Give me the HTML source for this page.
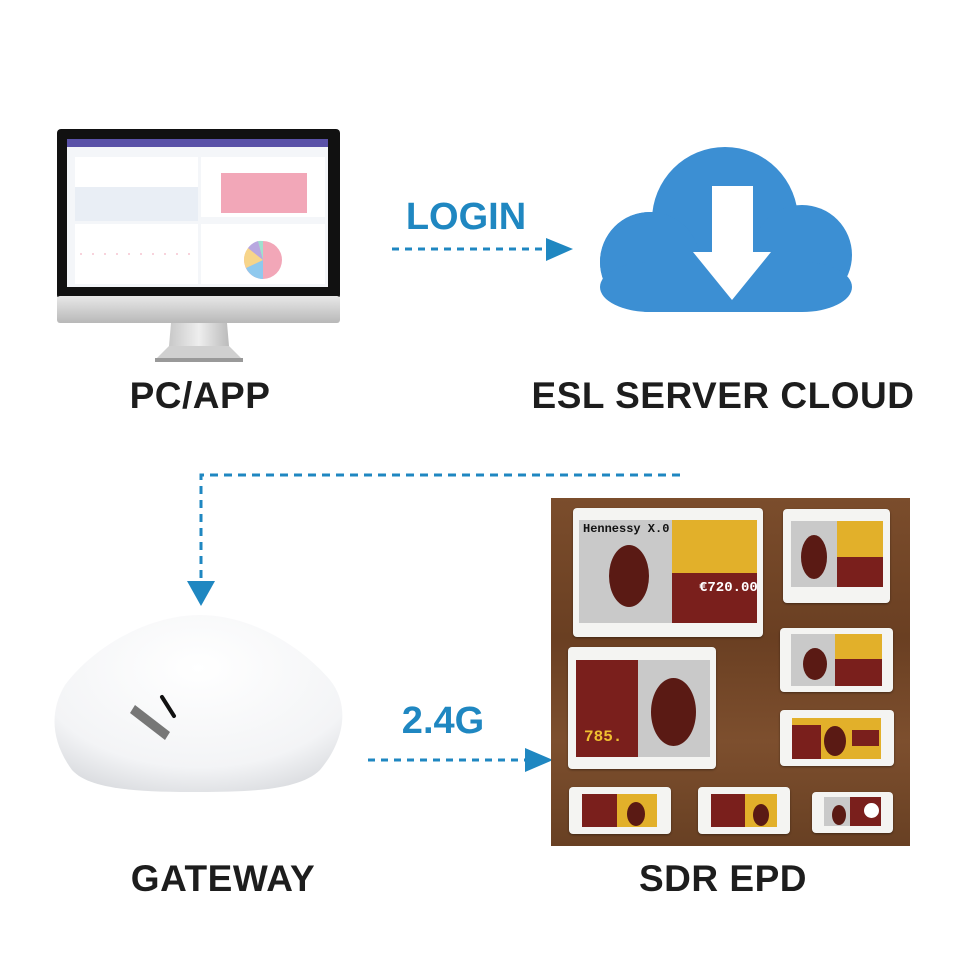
<!DOCTYPE html>
<html><head><meta charset="utf-8"><style>
html,body{margin:0;padding:0;background:#fff;}
body{width:960px;height:960px;position:relative;overflow:hidden;font-family:"Liberation Sans",sans-serif;}
.lbl{position:absolute;font-weight:bold;color:#1d1d1d;font-size:37px;text-align:center;white-space:nowrap;transform:translateX(-50%);letter-spacing:0.5px}
.blue{position:absolute;font-weight:bold;color:#1f87c1;font-size:38px;transform:translateX(-50%);}
.t{position:absolute;background:#f4f4f2;border-radius:4px;box-shadow:0 1px 2px rgba(0,0,0,.4)}
.s{position:absolute;overflow:hidden}
.s div{position:absolute}
</style></head><body>
<svg width="960" height="960" style="position:absolute;left:0;top:0">
<defs>
<linearGradient id="chin" x1="0" y1="0" x2="0" y2="1"><stop offset="0" stop-color="#e8e8e8"/><stop offset="1" stop-color="#b8b8b8"/></linearGradient>
<linearGradient id="neck" x1="0" y1="0" x2="1" y2="0"><stop offset="0" stop-color="#c8c8c8"/><stop offset=".5" stop-color="#eee"/><stop offset="1" stop-color="#bbb"/></linearGradient>
<radialGradient id="gw" cx=".5" cy=".3" r=".8"><stop offset="0" stop-color="#ffffff"/><stop offset=".7" stop-color="#f3f4f6"/><stop offset="1" stop-color="#d4d6da"/></radialGradient>
</defs>
<!-- monitor -->
<rect x="57" y="129" width="283" height="170" rx="4" fill="#111"/>
<rect x="57" y="296" width="283" height="27" rx="3" fill="url(#chin)"/>
<path d="M171 323 L227 323 L229 346 L169 346 Z" fill="url(#neck)"/>
<path d="M169 346 L229 346 L243 360 L155 360 Z" fill="#d0d0d0"/>
<rect x="155" y="358" width="88" height="4" fill="#999"/>
<rect x="67" y="139" width="261" height="148" fill="#f4f6f9"/>
<rect x="67" y="139" width="261" height="8" fill="#5a52a8"/>
<rect x="75" y="157" width="123" height="64" fill="#e9eef5"/>
<rect x="75" y="157" width="123" height="30" fill="#fff"/>
<rect x="201" y="157" width="124" height="60" fill="#fff"/>
<rect x="221" y="173" width="86" height="40" fill="#f2a7b8"/>
<rect x="75" y="224" width="123" height="60" fill="#fff"/>
<rect x="201" y="224" width="124" height="60" fill="#fff"/>
<line x1="80" y1="254" x2="195" y2="254" stroke="#f2a7b8" stroke-width="1" stroke-dasharray="2 10"/>
<circle cx="263" cy="260" r="19" fill="#f2a7b8"/>
<path d="M263 260 L263 279 A19 19 0 0 1 246 268 Z" fill="#8fc9ee"/>
<path d="M263 260 L246 268 A19 19 0 0 1 248 248 Z" fill="#f7d58a"/>
<path d="M263 260 L248 248 A19 19 0 0 1 258 241 Z" fill="#b8a8e0"/>
<path d="M263 260 L258 241 A19 19 0 0 1 263 241 Z" fill="#9ee0cf"/>
<!-- login arrow -->
<line x1="392" y1="249" x2="545" y2="249" stroke="#1f87c1" stroke-width="3" stroke-dasharray="7 6"/>
<path d="M546 238 L573 249 L546 261 Z" fill="#1f87c1"/>
<!-- cloud -->
<g fill="#3c8fd3">
<circle cx="725" cy="220" r="73"/>
<circle cx="650" cy="262" r="50"/>
<circle cx="802" cy="255" r="50"/>
<rect x="650" y="240" width="152" height="72"/>
<circle cx="650" cy="262" r="50"/>
</g>
<rect x="600" y="262" width="252" height="50" rx="50" fill="#3c8fd3"/>
<path d="M712 186 L753 186 L753 252 L771 252 L732 300 L693 252 L712 252 Z" fill="#fff"/>
<!-- elbow arrow -->
<path d="M680 475 L201 475 L201 578" fill="none" stroke="#1f87c1" stroke-width="3" stroke-dasharray="8 6"/>
<path d="M187 581 L215 581 L201 606 Z" fill="#1f87c1"/>
<!-- gateway -->
<path d="M200 615 C250 615 300 645 330 680 C350 705 345 740 320 770 C300 790 250 792 200 792 C140 792 90 790 72 770 C50 740 50 710 65 685 C95 645 150 615 200 615 Z" fill="url(#gw)"/>
<path d="M162 697 L174 716" stroke="#111" stroke-width="4" stroke-linecap="round"/>
<path d="M135 705 L170 732 L165 740 L130 713 Z" fill="#777"/>
<!-- 2.4G arrow -->
<line x1="368" y1="760" x2="525" y2="760" stroke="#1f87c1" stroke-width="3" stroke-dasharray="7 6"/>
<path d="M525 748 L553 760 L525 772 Z" fill="#1f87c1"/>
</svg>
<div class="blue" style="left:466px;top:196px">LOGIN</div>
<div class="blue" style="left:443px;top:700px">2.4G</div>
<div class="lbl" style="left:200px;top:375px">PC/APP</div>
<div class="lbl" style="left:723px;top:375px">ESL SERVER CLOUD</div>
<div class="lbl" style="left:223px;top:858px">GATEWAY</div>
<div class="lbl" style="left:723px;top:858px">SDR EPD</div>
<!-- photo -->
<div style="position:absolute;left:551px;top:498px;width:359px;height:348px;background:linear-gradient(180deg,#7b4d2c,#6a3f22 40%,#7d4f2e 70%,#684023)">
</div>
<div class="t" style="left:573px;top:508px;width:190px;height:129px"></div>
<div class="s" style="left:579px;top:520px;width:178px;height:103px;background:#c9c9c9">
 <div style="left:93px;top:0;width:85px;height:53px;background:#e2b02a"></div>
 <div style="left:93px;top:53px;width:85px;height:50px;background:#7a1f1c"></div>
 <div style="left:30px;top:25px;width:40px;height:62px;border-radius:50%;background:#5a1a14"></div>
 <div style="left:4px;top:2px;font:bold 12px 'Liberation Mono',monospace;color:#111">Hennessy X.0</div>
 <div style="left:120px;top:60px;font:bold 14px 'Liberation Mono',monospace;color:#fff">€720.00</div>
</div>
<div class="t" style="left:783px;top:509px;width:107px;height:94px"></div>
<div class="s" style="left:791px;top:521px;width:92px;height:66px;background:#c9c9c9">
 <div style="left:46px;top:0;width:46px;height:36px;background:#e2b02a"></div>
 <div style="left:46px;top:36px;width:46px;height:30px;background:#7a1f1c"></div>
 <div style="left:10px;top:14px;width:26px;height:44px;border-radius:50%;background:#5a1a14"></div>
</div>
<div class="t" style="left:780px;top:628px;width:113px;height:64px"></div>
<div class="s" style="left:791px;top:634px;width:91px;height:52px;background:#c9c9c9">
 <div style="left:44px;top:0;width:47px;height:25px;background:#e2b02a"></div>
 <div style="left:44px;top:25px;width:47px;height:27px;background:#7a1f1c"></div>
 <div style="left:12px;top:14px;width:24px;height:32px;border-radius:50%;background:#5a1a14"></div>
</div>
<div class="t" style="left:568px;top:647px;width:148px;height:122px"></div>
<div class="s" style="left:576px;top:660px;width:134px;height:97px;background:#c9c9c9">
 <div style="left:0;top:0;width:62px;height:97px;background:#7a1f1c"></div>
 <div style="left:75px;top:18px;width:45px;height:68px;border-radius:50%;background:#5a1a14"></div>
 <div style="left:8px;top:68px;font:bold 16px 'Liberation Mono',monospace;color:#f0c030">785.</div>
</div>
<div class="t" style="left:780px;top:710px;width:114px;height:56px"></div>
<div class="s" style="left:792px;top:718px;width:89px;height:41px;background:#e2b02a">
 <div style="left:0;top:7px;width:29px;height:34px;background:#7a1f1c"></div>
 <div style="left:32px;top:8px;width:22px;height:30px;border-radius:50%;background:#5a1a14"></div>
 <div style="left:60px;top:12px;width:27px;height:16px;background:#7a1f1c"></div>
</div>
<div class="t" style="left:569px;top:787px;width:102px;height:47px"></div>
<div class="s" style="left:582px;top:794px;width:75px;height:33px;background:#e2b02a">
 <div style="left:0;top:0;width:35px;height:33px;background:#7a1f1c"></div>
 <div style="left:45px;top:8px;width:18px;height:24px;border-radius:50%;background:#5a1a14"></div>
</div>
<div class="t" style="left:698px;top:787px;width:92px;height:47px"></div>
<div class="s" style="left:711px;top:794px;width:66px;height:33px;background:#e2b02a">
 <div style="left:0;top:0;width:34px;height:33px;background:#7a1f1c"></div>
 <div style="left:42px;top:10px;width:16px;height:22px;border-radius:50%;background:#5a1a14"></div>
</div>
<div class="t" style="left:812px;top:792px;width:81px;height:41px"></div>
<div class="s" style="left:824px;top:797px;width:57px;height:29px;background:#c9c9c9">
 <div style="left:26px;top:0;width:31px;height:29px;background:#7a1f1c"></div>
 <div style="left:8px;top:8px;width:14px;height:20px;border-radius:50%;background:#5a1a14"></div>
 <div style="left:40px;top:6px;width:15px;height:15px;border-radius:50%;background:#fff"></div>
</div>
</body></html>
